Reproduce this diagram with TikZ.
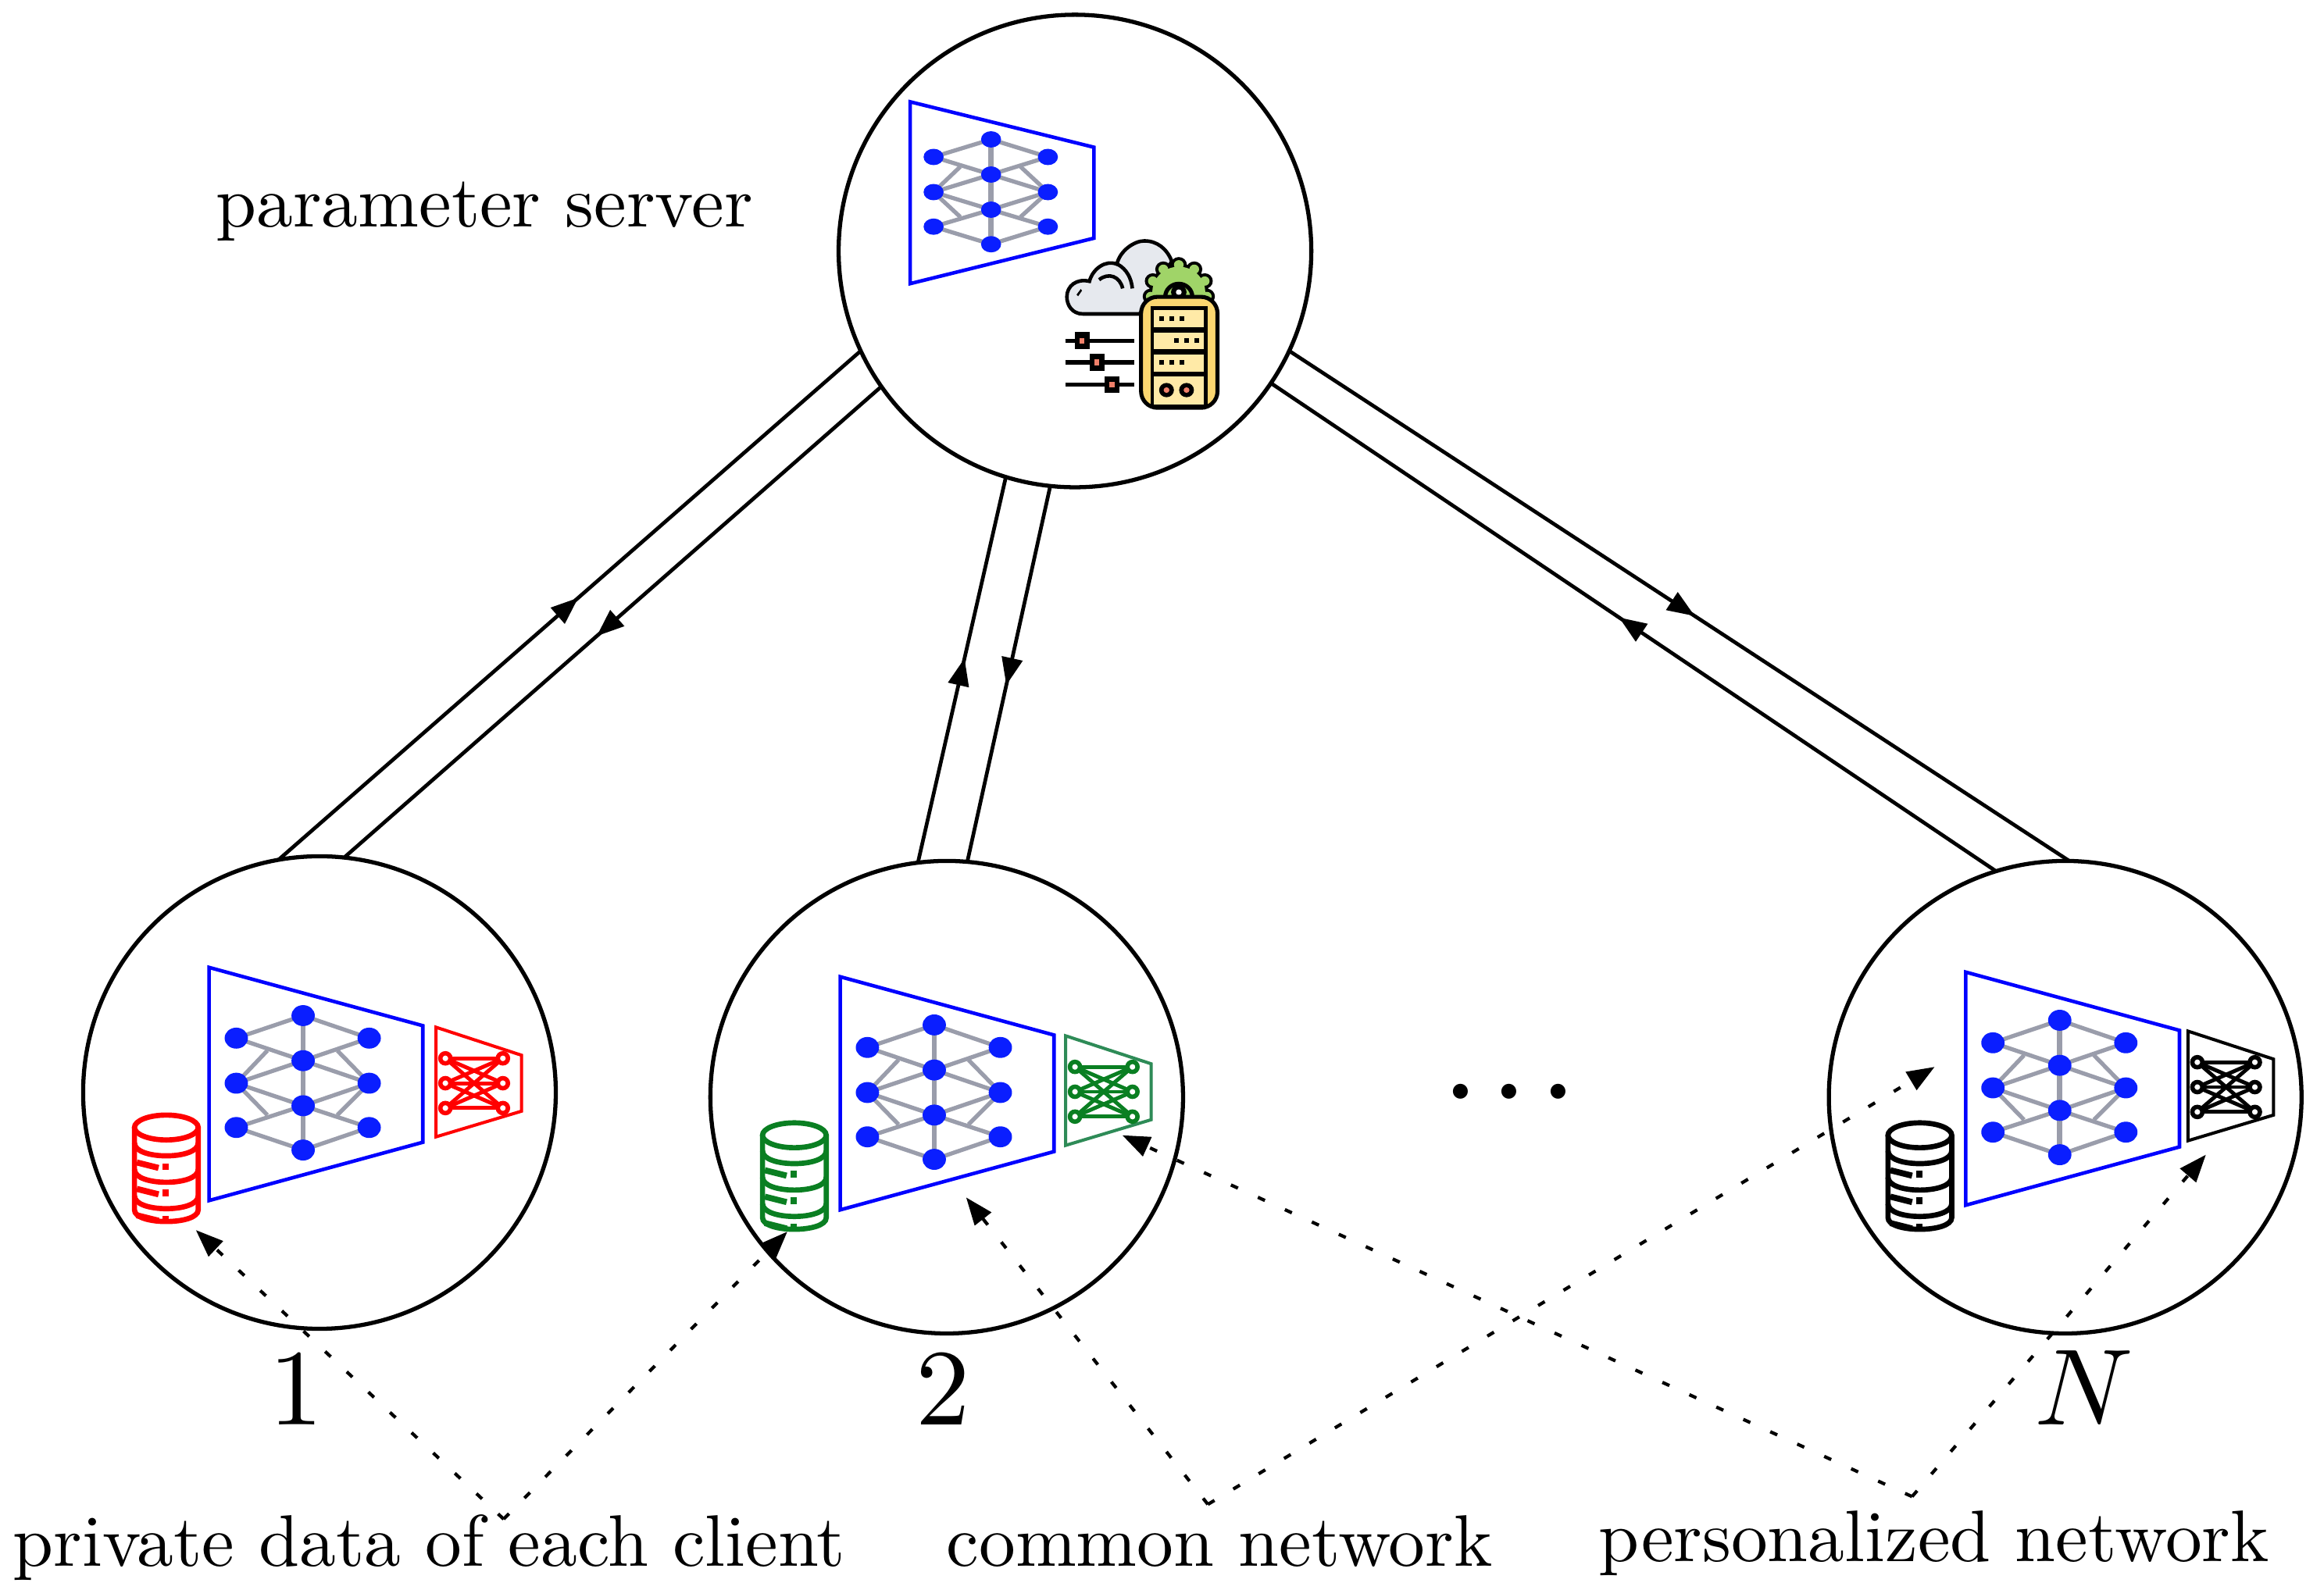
\documentclass[tikz,border=0pt]{standalone}
\usetikzlibrary{arrows.meta,decorations.markings,calc}
\definecolor{netgray}{HTML}{9A9DAB}
\definecolor{netblue}{HTML}{0A1EFF}
\definecolor{cloudg}{HTML}{E6E9EE}
\definecolor{gearg}{HTML}{A0D468}
\definecolor{casey}{HTML}{FCD770}
\definecolor{sloty}{HTML}{FFEAA7}
\definecolor{knobr}{HTML}{F0806A}
\definecolor{dbgreen}{HTML}{0A7F22}
\definecolor{framegreen}{HTML}{2E8B57}
\tikzset{
  round/.style={circle,draw,line width=1.5pt,inner sep=0pt,outer sep=0pt,minimum size=6.05cm},
  link/.style={line width=1.35pt,line join=round,postaction={decorate},decoration={markings,mark=at position #1 with {\arrow[line join=round]{Triangle[length=10pt,width=7.5pt]}}}},
  link/.default=.53,
  pointer/.style={line width=1.2pt,dash pattern=on 2.8pt off 8pt,-{Triangle[length=10pt,width=7.5pt]}},
  lbl/.style={anchor=base west,inner sep=0pt,scale=2.66},
  bigtxt/.style={anchor=base,inner sep=0pt,scale=3.95},
  blueframe/.style={draw=blue,line width=1.3pt,line join=miter},
  netedge/.style={draw=netgray,line width=1.5pt},
  iconline/.style={draw=black,line width=1.3pt},
}
\newcommand{\bignet}[4]{%
\begin{scope}[shift={(#1,#2)},xscale=#3,yscale=#4]
\draw[blueframe] (0,0)--(275,75)--(275,225)--(0,300)--cycle;
\draw[netedge] (35,91)--(121,62)--(206,91)--(121,120)--cycle;
\draw[netedge] (35,149)--(121,120)--(206,149)--(121,178)--cycle;
\draw[netedge] (35,206)--(121,178)--(206,206)--(121,235)--cycle;
\draw[netedge] (35,149)--(75,107) (35,149)--(75,190) (206,149)--(165,107) (206,149)--(165,190);
\draw[netedge,line width=1.9pt] (121,62)--(121,235);
\foreach \px/\py in {35/91,35/149,35/206,121/62,121/120,121/178,121/235,206/91,206/149,206/206}
  \fill[netblue] (\px,\py) ellipse [x radius=15,y radius=13.5];
\end{scope}}
\newcommand{\smallnet}[4]{%
\begin{scope}[shift={(#1,#2)}]
\draw[draw=#4,line width=1.15pt] (0,0)--(110,36)--(110,108)--(0,141)--cycle;
\foreach \ya in {40,72,104}\foreach \yb in {40,72,104}
  \draw[#3,line width=1.4pt] (12,\ya)--(86,\yb);
\fill[white] (49,62) circle [radius=2.5] (49,82) circle [radius=2.5];
\foreach \yy in {40,72,104}{
  \fill[white,draw=#3,line width=1.6pt] (12,\yy) circle [radius=6.5];
  \fill[white,draw=#3,line width=1.6pt] (86,\yy) circle [radius=6.5];}
\end{scope}}
\newcommand{\dbstack}[3]{%
\begin{scope}[shift={(#1,#2)},color=#3,line width=1.9pt]
\draw (0,0) ellipse [x radius=41,y radius=16];
\draw (-41,0)--(-41,106) .. controls (-41,126) and (41,126) .. (41,106)--(41,0);
\foreach \yy in {20,54,88}{
  \draw (-41,\yy) .. controls (-41,\yy+22) and (41,\yy+22) .. (41,\yy);
  \draw[line width=2.2pt] (-38,\yy+25)--(-10,\yy+32);
  \fill (-5,\yy+26) rectangle (3,\yy+35);}
\end{scope}}
\begin{document}
\begin{tikzpicture}[x=0.00995cm,y=-0.00995cm]
\useasboundingbox (0,0) rectangle (2990,2046.2);
% circles
\node[round] (server) at (1383,323) {};
\node[round] (cone) at (411,1406) {};
\node[round] (ctwo) at (1218,1412) {};
\node[round] (cn) at (2657,1412) {};
% links
\draw[link=.515] (cone.100.9) -- (server.205.5);
\draw[link] (server.215.5) -- (cone.84.8);
\draw[link] (ctwo.97.3) -- (server.253.7);
\draw[link] (server.264.4) -- (ctwo.85.5);
\draw[link=.52] (server.-25) -- (cn.89.5);
\draw[link=.52] (cn.107.9) -- (server.-34.3);
% nets
\bignet{1171}{131}{0.86}{0.78}
\bignet{269}{1245}{1}{1}
\bignet{1081}{1257}{1}{1}
\bignet{2529}{1251}{1}{1}
\smallnet{561}{1322}{red}{red}
\smallnet{1371}{1333}{dbgreen}{framegreen}
\smallnet{2815}{1327}{black}{black}
\dbstack{214}{1451}{red}
\dbstack{1022}{1461}{dbgreen}
\dbstack{2470}{1461}{black}
% server icon
\begin{scope}[shift={(1080,20)},xscale=.415,yscale=.4]
\draw[iconline,fill=cloudg] (930,960)--(755,960) .. controls (720,960) and (705,930) .. (705,905) .. controls (705,870) and (735,845) .. (775,855) .. controls (785,815) and (825,785) .. (860,800) .. controls (870,755) and (915,725) .. (945,725) .. controls (985,725) and (1015,750) .. (1030,790) -- (980,900) -- cycle;
\draw[iconline] (805,850) .. controls (835,825) and (870,840) .. (878,878);
\draw[iconline] (862,800) .. controls (890,815) and (905,845) .. (908,878);
\fill (735,898) -- (748,880) -- (752,885) -- (740,903) -- cycle;
\begin{scope}[shift={(1052,890)}]
\fill[black] (0,0) circle [radius=92];
\foreach \ang in {171,204,237,270,303,336,369}
  \fill[black] (\ang:88) circle [radius=25];
\fill[gearg] (0,0) circle [radius=82];
\foreach \ang in {171,204,237,270,303,336,369}
  \fill[gearg] (\ang:88) circle [radius=15];
\draw[line width=1.5pt] (-42,15) arc [start angle=180,end angle=360,radius=42];
\fill[black] (0,0) circle [radius=24];
\fill[white] (0,0) circle [radius=9];
\end{scope}
\draw[iconline,line width=1.45pt,fill=casey,rounded corners=6] (935,905) rectangle (1172,1262);
\fill[black] (965,936) rectangle (1142,1262);
\fill[sloty] (975,948) rectangle (1130,1002);
\fill[sloty] (975,1020) rectangle (1130,1072);
\fill[sloty] (975,1090) rectangle (1130,1145);
\fill[sloty] (975,1162) rectangle (1130,1252);
\foreach \dx/\dy in {998/975,1030/975,1062/975,1045/1046,1076/1046,1107/1046,998/1116,1030/1116,1062/1116}
  \fill[black] (\dx-7,\dy-8) rectangle (\dx+7,\dy+8);
\foreach \dx in {1014,1076}{
  \fill[black] (\dx,1205) circle [radius=23];
  \fill[knobr] (\dx,1205) circle [radius=9];}
\foreach \sy/\sx in {1046/752,1116/798,1187/845}{
  \draw[line width=1.5pt] (700,\sy)--(914,\sy);
  \fill[black] (\sx-23,\sy-27) rectangle (\sx+23,\sy+27);
  \fill[knobr] (\sx-8,\sy-9) rectangle (\sx+8,\sy+9);}
\end{scope}
% dots
\node[bigtxt,scale=.88] (dots) at (1942,1436) {{\boldmath$\cdots$}};
% labels
\node[lbl] (ps) at (276,292) {parameter server};
\node[lbl] (pd) at (15,2016) {private data of each client};
\node[lbl] (cm) at (1216,2016) {common network};
\node[lbl] (pn) at (2055,2010) {personalized network};
\node[bigtxt] (one) at (381,1834) {1};
\node[bigtxt] (two) at (1213,1834) {2};
\node[bigtxt] (enn) at (2681,1834) {$N$};
% pointers
\coordinate (pda) at (648,1955);
\coordinate (pdb) at (252,1583);
\coordinate (pdc) at (1013,1585);
\coordinate (cma) at (1554,1936);
\coordinate (cmb) at (1243,1541);
\coordinate (cmc) at (2489,1373);
\coordinate (pna) at (2460,1926);
\coordinate (pnb) at (1444,1461);
\coordinate (pnc) at (2838,1486);
\draw[pointer] (pda) -- (pdb);
\draw[pointer] (pda) -- (pdc);
\draw[pointer] (cma) -- (cmb);
\draw[pointer] (cma) -- (cmc);
\draw[pointer] (pna) -- (pnb);
\draw[pointer] (pna) -- (pnc);
\end{tikzpicture}
\end{document}
